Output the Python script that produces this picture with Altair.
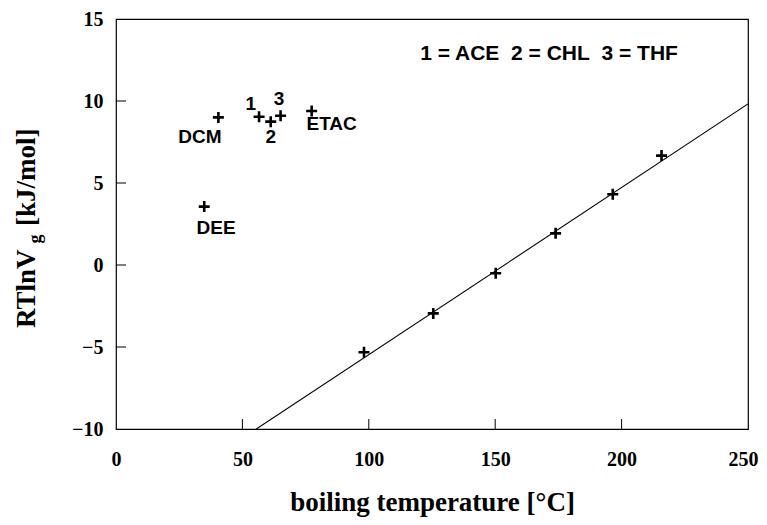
import altair as alt
import pandas as pd

# scattered (non-homologous) solutes
solv_names = ["DCM", "DEE", "ACE", "CHL", "THF", "ETAC"]
solv_bp = [40.5, 34.9, 56.6, 61.2, 65.1, 77.4]
solv_rt = [9.0, 3.56, 9.04, 8.74, 9.1, 9.39]

# label texts and their positions (data units)
lab_text = ["DCM", "DEE", "1", "2", "3", "ETAC"]
lab_x = [33.2, 39.6, 53.3, 61.2, 64.5, 85.3]
lab_y = [7.8, 2.27, 9.82, 7.82, 10.12, 8.6]

# homologous series on the line
ser_bp = [98.1, 125.5, 150.2, 173.9, 196.5, 215.8]
ser_rt = [-5.32, -2.95, -0.5, 1.93, 4.31, 6.67]

# fitted line end points
fit_x = [55.5, 250]
fit_y = [-10, 9.82]

legend_text = ["1 = ACE\u00a0\u00a02 = CHL\u00a0\u00a03 = THF"]
legend_x = [171.3]
legend_y = [12.87]

x_ticks = [50, 100, 150, 200]
y_ticks = [-5, 0, 5, 10]

W, H = 632, 410
SERIF = "Liberation Serif"
SANS = "Liberation Sans"

pts = pd.DataFrame({"x": solv_bp + ser_bp, "y": solv_rt + ser_rt})
labs = pd.DataFrame({"t": lab_text, "x": lab_x, "y": lab_y})
fit = pd.DataFrame({"x": fit_x, "y": fit_y})
leg = pd.DataFrame({"t": legend_text, "x": legend_x, "y": legend_y})
xt = pd.DataFrame({"x": x_ticks})
yt = pd.DataFrame({"y": y_ticks})

xscale = alt.Scale(domain=[0, 250], nice=False, zero=False)
yscale = alt.Scale(domain=[-10, 15], nice=False, zero=False)

xaxis = alt.Axis(values=[0, 50, 100, 150, 200, 250], ticks=False, tickSize=0, domain=False, grid=False,
                 labelFont=SERIF, labelFontWeight="bold", labelFontSize=20, labelColor="black",
                 labelPadding=20, labelFlush=False,
                 labelAlign=alt.expr("datum.value == 250 ? 'right' : 'center'"),
                 labelOffset=alt.expr("datum.value == 250 ? 10 : 0"),
                 title="boiling temperature [°C]", titleFont=SERIF, titleFontWeight="bold",
                 titleFontSize=27, titleColor="black", titlePadding=20)
yaxis = alt.Axis(values=[-10, -5, 0, 5, 10, 15], ticks=False, tickSize=0, domain=False, grid=False,
                 labelFont=SERIF, labelFontWeight="bold", labelFontSize=20, labelColor="black",
                 labelPadding=13, labelFlush=False, title="")

base_pts = alt.Chart(pts).mark_point(
    shape="M-1,0H1M0,-1V1", size=121, strokeWidth=2.6, color="black", filled=False, opacity=1
).encode(
    x=alt.X("x:Q", scale=xscale, axis=xaxis),
    y=alt.Y("y:Q", scale=yscale, axis=yaxis),
)

line = alt.Chart(fit).mark_line(color="black", strokeWidth=1.1, clip=True).encode(
    x="x:Q", y="y:Q"
)

labels = alt.Chart(labs).mark_text(
    font=SANS, fontWeight="bold", fontSize=19, color="black", align="center", baseline="middle"
).encode(x="x:Q", y="y:Q", text="t:N")

legend = alt.Chart(leg).mark_text(
    font=SANS, fontWeight="bold", fontSize=21, color="black", align="center", baseline="middle"
).encode(x="x:Q", y="y:Q", text="t:N")

xtick = alt.Chart(xt).mark_rule(color="black", strokeWidth=1).encode(
    x="x:Q", y=alt.value(H), y2=alt.value(H - 10)
)
ytick = alt.Chart(yt).mark_rule(color="black", strokeWidth=1).encode(
    y="y:Q", x=alt.value(0), x2=alt.value(10)
)

ytitle_a = alt.Chart(pd.DataFrame({"t": ["RTlnV"]})).mark_text(
    font=SERIF, fontWeight="bold", fontSize=27, color="black", angle=270,
    align="left", baseline="alphabetic"
).encode(x=alt.value(-81), y=alt.value(309), text="t:N")
ytitle_g = alt.Chart(pd.DataFrame({"t": ["g"]})).mark_text(
    font=SERIF, fontWeight="bold", fontSize=18, color="black", angle=270,
    align="center", baseline="alphabetic"
).encode(x=alt.value(-75), y=alt.value(220), text="t:N")
ytitle_b = alt.Chart(pd.DataFrame({"t": ["[kJ/mol]"]})).mark_text(
    font=SERIF, fontWeight="bold", fontSize=27, color="black", angle=270,
    align="left", baseline="alphabetic"
).encode(x=alt.value(-81), y=alt.value(207), text="t:N")

chart = alt.layer(
    base_pts, line, labels, legend, xtick, ytick, ytitle_a, ytitle_g, ytitle_b
).properties(
    width=W, height=H,
    autosize=alt.AutoSizeParams(type="none"),
    padding={"left": 108, "top": 11, "right": 11, "bottom": 88},
    background="white",
).configure_view(stroke="black", strokeWidth=1.2)

chart.save("out.html", embed_options={"renderer": "svg", "actions": False})
